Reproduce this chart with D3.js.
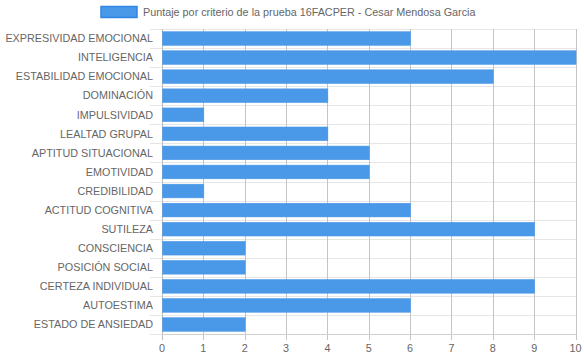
<!DOCTYPE html>
<html><head><meta charset="utf-8">
<script src="https://cdn.jsdelivr.net/npm/d3@7"></script>
<style>body{margin:0;background:#fff}svg{display:block}</style>
</head><body>
<svg id="c" width="584" height="359"></svg>
<script>
const categories = ["EXPRESIVIDAD EMOCIONAL","INTELIGENCIA","ESTABILIDAD EMOCIONAL","DOMINACIÓN","IMPULSIVIDAD","LEALTAD GRUPAL","APTITUD SITUACIONAL","EMOTIVIDAD","CREDIBILIDAD","ACTITUD COGNITIVA","SUTILEZA","CONSCIENCIA","POSICIÓN SOCIAL","CERTEZA INDIVIDUAL","AUTOESTIMA","ESTADO DE ANSIEDAD"];
const values = [6,10,8,4,1,4,5,5,1,6,9,2,2,9,6,2];
const xTicks = [0,1,2,3,4,5,6,7,8,9,10];
const seriesName = "Puntaje por criterio de la prueba 16FACPER - Cesar Mendosa Garcia";

(function(){
const svg = d3.select("#c");
const font = "'Liberation Sans', Arial, sans-serif";
const fs = 10.8;
const pLeft = 162, pRight = 575.5, pTop = 29, pBottom = 334;
const x = d3.scaleLinear().domain([0,10]).range([pLeft,pRight]);
const y = d3.scaleBand().domain(categories).range([pTop,pBottom]).paddingInner(0).paddingOuter(0);

const hg = svg.append("g");
const bounds = categories.map(c=>y(c)).concat([pBottom]);
hg.selectAll("line").data(bounds).join("line")
  .attr("x1",150).attr("x2",pRight+0.5)
  .attr("y1",d=>Math.round(d)+0.5).attr("y2",d=>Math.round(d)+0.5)
  .attr("stroke","#e6e6e6").attr("stroke-width",1);

const vg = svg.append("g");
vg.selectAll("line").data(xTicks).join("line")
  .attr("x1",d=>Math.round(x(d))+0.5).attr("x2",d=>Math.round(x(d))+0.5)
  .attr("y1",pTop).attr("y2",pBottom+6)
  .attr("stroke",d=>d===0?"#bdbdbd":"#c4c4c4").attr("stroke-width",1);

const bh = y.bandwidth()*0.72;
svg.append("g").selectAll("rect").data(values).join("rect")
  .attr("x",x(0)+0.5)
  .attr("y",(d,i)=>y(categories[i])+(y.bandwidth()-bh)/2)
  .attr("width",d=>x(d)-x(0))
  .attr("height",bh)
  .attr("fill","#4a98e8")
  .attr("stroke","#4a98e8").attr("stroke-width",0.5);

svg.append("line").attr("x1",pLeft).attr("x2",pRight+0.5)
  .attr("y1",pBottom+0.5).attr("y2",pBottom+0.5).attr("stroke","#d0d0d0");

svg.append("g").selectAll("text").data(categories).join("text")
  .attr("x",153).attr("y",d=>y(d)+y.bandwidth()/2)
  .attr("dy","0.35em").attr("text-anchor","end")
  .attr("font-family",font).attr("font-size",fs).attr("fill","#666")
  .text(d=>d);

svg.append("g").selectAll("text").data(xTicks).join("text")
  .attr("x",d=>x(d)).attr("y",348).attr("dy","0.35em").attr("text-anchor","middle")
  .attr("font-family",font).attr("font-size",fs).attr("fill","#666")
  .text(d=>d);

svg.append("rect").attr("x",101).attr("y",6.5).attr("width",36).attr("height",11)
  .attr("fill","#4a98e8").attr("stroke","#2f86e6").attr("stroke-width",1.5);
svg.append("text").attr("x",143).attr("y",12).attr("dy","0.35em")
  .attr("font-family",font).attr("font-size",fs).attr("fill","#666").text(seriesName);
})();
</script>
</body></html>
